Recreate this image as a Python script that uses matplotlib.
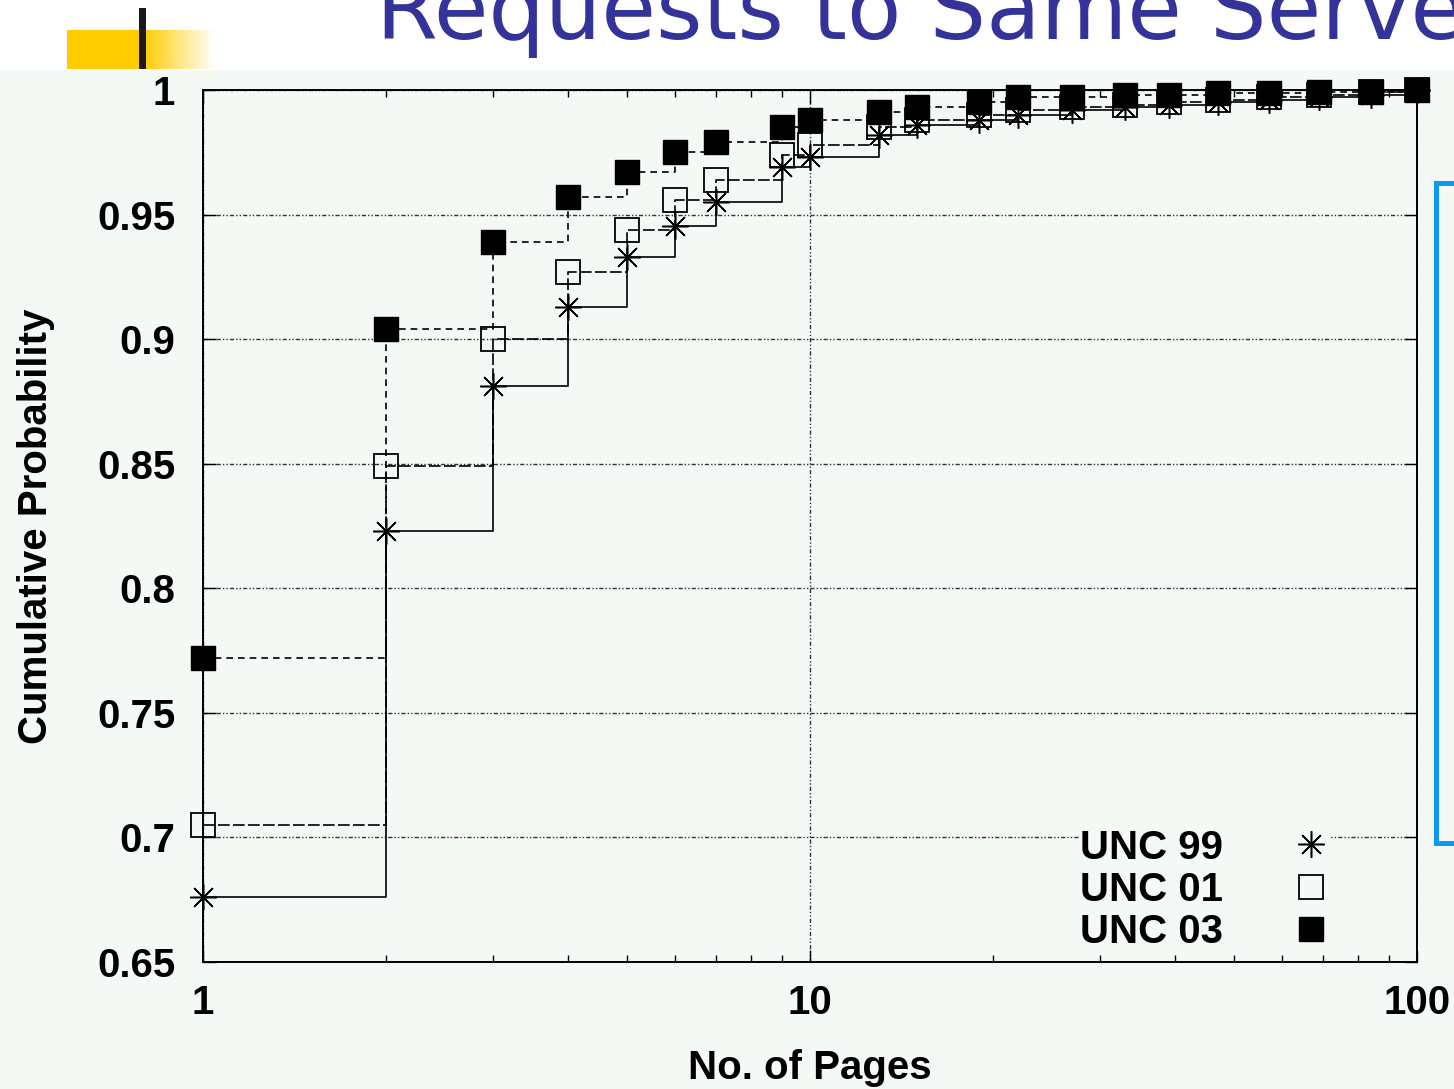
import numpy as np
import matplotlib.pyplot as plt
from matplotlib.lines import Line2D
from matplotlib.patches import Rectangle
from matplotlib.ticker import LogLocator, NullFormatter, FixedLocator

plt.rcParams['font.family'] = ['Liberation Sans', 'DejaVu Sans']
plt.rcParams['font.weight'] = 'bold'

W, H = 1454, 1089

# ---- data ----
pages = [1, 2, 3, 4, 5, 6, 7, 9, 10, 13, 15, 19, 22, 27, 33, 39, 47, 57, 69, 84, 100]

unc99 = [0.676, 0.823, 0.881, 0.913, 0.933, 0.9455, 0.955, 0.969, 0.973, 0.982,
         0.986, 0.988, 0.990, 0.992, 0.993, 0.994, 0.995, 0.996, 0.997, 0.998, 1.0]
unc01 = [0.705, 0.849, 0.900, 0.927, 0.944, 0.956, 0.964, 0.974, 0.978, 0.985,
         0.988, 0.990, 0.992, 0.993, 0.994, 0.995, 0.996, 0.997, 0.998, 0.999, 1.0]
unc03 = [0.772, 0.904, 0.939, 0.957, 0.967, 0.975, 0.979, 0.985, 0.988, 0.991,
         0.993, 0.995, 0.997, 0.997, 0.998, 0.998, 0.9988, 0.9988, 0.9992, 0.9992, 1.0]

series_names = ['UNC 99', 'UNC 01', 'UNC 03']

yticks = [0.65, 0.7, 0.75, 0.8, 0.85, 0.9, 0.95, 1.0]
ytick_labels = ['0.65', '0.7', '0.75', '0.8', '0.85', '0.9', '0.95', '1']
xticks = [1, 10, 100]
xtick_labels = ['1', '10', '100']

title = 'Requests to Same Server'
xlabel = 'No. of Pages'
ylabel = 'Cumulative Probability'

BG = '#f5f9f5'

fig = plt.figure(figsize=(W / 100, H / 100), dpi=100, facecolor='white')

# slide background below the title band
fig.add_artist(Rectangle((0, 0), 1, 1 - 70 / H, transform=fig.transFigure,
                         facecolor=BG, edgecolor='none', zorder=-10))

# yellow gradient bar + black tick (slide decoration)
deco = fig.add_axes([67 / W, 1 - 69 / H, 148 / W, 39 / H])
n = 148
alpha = np.ones(n)
alpha[76:] = np.linspace(1, 0, n - 76)
yellow = np.array([1.0, 0.8, 0.0])
row = yellow[None, :] * alpha[:, None] + (1 - alpha[:, None])
deco.imshow(np.repeat(row[None, :, :], 4, axis=0), aspect='auto')
deco.axis('off')
fig.add_artist(Rectangle((139 / W, 1 - 69 / H), 7 / W, 61 / H,
                         transform=fig.transFigure, facecolor='#1a1a1a',
                         edgecolor='none'))

# title (clipped by the slide edge)
fig.text(376 / W, 1 - 39 / H, title, fontsize=64, color='#333399',
         family='DejaVu Sans', weight='normal', va='baseline', ha='left')

# blue bracket on the right
fig.add_artist(Line2D([1.01, 1436 / W, 1436 / W, 1.01],
                      [1 - 183 / H, 1 - 183 / H, 1 - 843 / H, 1 - 843 / H],
                      transform=fig.transFigure, color='#0d99f2', lw=3.6,
                      solid_joinstyle='miter'))

# ---- main chart ----
ax = fig.add_axes([203 / W, 1 - 962 / H, (1417 - 203) / W, (962 - 90) / H])
ax.set_facecolor(BG)
ax.set_xscale('log')
ax.set_xlim(1, 100)
ax.set_ylim(0.65, 1.0)

ax.plot(pages, unc99, color='k', lw=1.2, drawstyle='steps-post',
        marker=(8, 2, 0), ms=19, mew=1.1, clip_on=False, zorder=3)
ax.plot(pages, unc01, color='k', lw=1.2, ls=(0, (7, 2)), drawstyle='steps-post',
        marker='s', ms=17, mfc='none', mec='k', mew=1.3, clip_on=False, zorder=4)
ax.plot(pages, unc03, color='k', lw=1.2, ls=(0, (4, 3)), drawstyle='steps-post',
        marker='s', ms=17, mfc='k', mec='k', clip_on=False, zorder=5)

ax.xaxis.set_major_locator(FixedLocator(xticks))
ax.set_xticklabels(xtick_labels)
ax.xaxis.set_minor_locator(LogLocator(base=10, subs=np.arange(2, 10)))
ax.xaxis.set_minor_formatter(NullFormatter())
ax.set_yticks(yticks)
ax.set_yticklabels(ytick_labels)

ax.grid(True, which='major', color='#333333', lw=1.0,
        ls=(0, (3, 1.5, 1, 1.5, 1, 1.5)))
ax.set_axisbelow(True)

ax.tick_params(which='both', direction='in', top=True, right=True,
               colors='k', labelsize=29)
ax.tick_params(which='major', length=9, width=1.0)
ax.tick_params(which='minor', length=5, width=1.0)
ax.tick_params(axis='x', pad=16)
ax.tick_params(axis='y', pad=20)
for s in ax.spines.values():
    s.set_linewidth(1.4)

ax.set_xlabel(xlabel, fontsize=29, fontweight='bold')
ax.xaxis.set_label_coords(0.5, -0.1)
ax.set_ylabel(ylabel, fontsize=29, fontweight='bold')
ax.yaxis.set_label_coords(-0.122, 0.5)

handles = [
    Line2D([], [], ls='none', color='k', marker=(8, 2, 0), ms=19, mew=1.1),
    Line2D([], [], ls='none', marker='s', ms=17, mfc='none', mec='k', mew=1.3),
    Line2D([], [], ls='none', marker='s', ms=17, mfc='k', mec='k'),
]
leg = ax.legend(handles, series_names, loc='upper left',
                bbox_to_anchor=(0.7225, 0.153), markerfirst=False,
                borderpad=0, borderaxespad=0, labelspacing=0.1,
                handlelength=1.0, handletextpad=1.68,
                prop={'family': 'Liberation Sans', 'weight': 'bold', 'size': 29},
                frameon=True, fancybox=False, framealpha=1)
leg.get_frame().set_facecolor(BG)
leg.get_frame().set_edgecolor('none')

fig.savefig('out.png', dpi=100)
